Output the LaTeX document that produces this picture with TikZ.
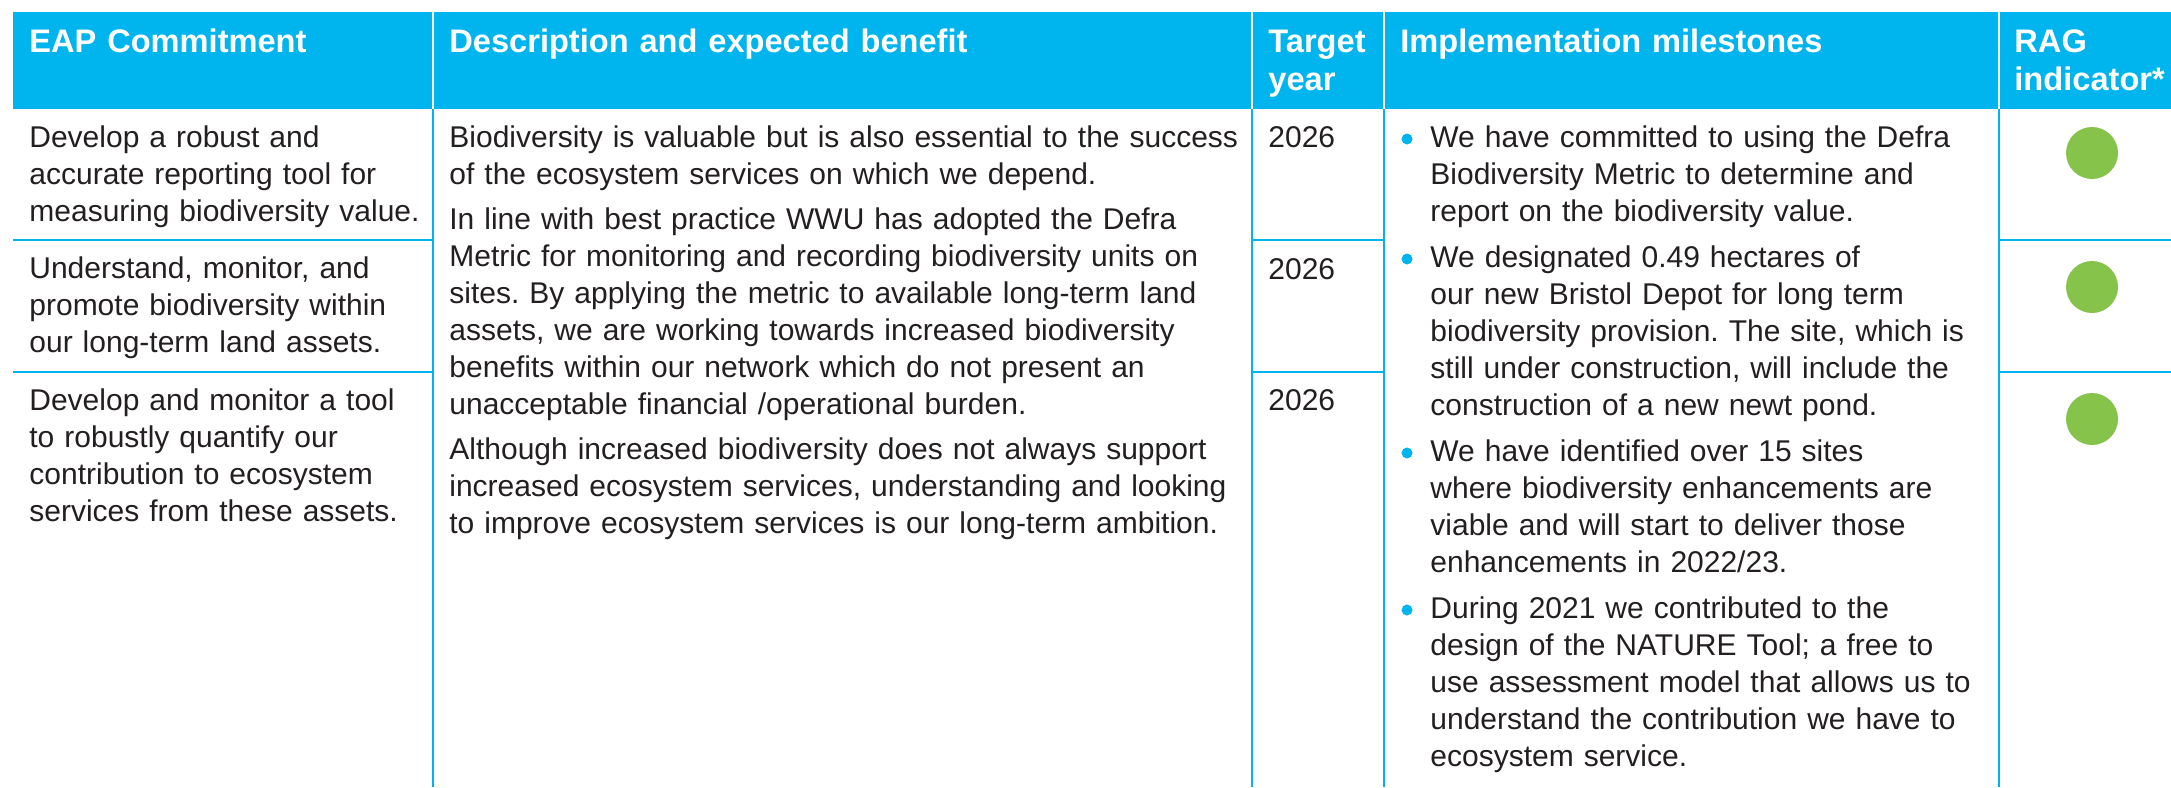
\documentclass[tikz,border=0pt]{standalone}
\usepackage{fontspec}
\setmainfont{Liberation Sans}
\usepackage{xcolor}

\definecolor{eapBlue}{HTML}{00B4EE}
\definecolor{eapGreen}{HTML}{86C34A}
\definecolor{eapText}{HTML}{231F20}

\begin{document}
\frenchspacing
\begin{tikzpicture}[x=0.5pt,y=-0.5pt,
  headtext/.style={anchor=base west,inner sep=0pt,text width=300pt,align=left,text=white,font=\fontsize{16.3}{19}\selectfont\bfseries},
  celltext/.style={anchor=base west,inner sep=0pt,text width=420pt,align=left,text=eapText,font=\fontsize{15}{18.5}\selectfont},
  gridline/.style={draw=eapBlue,line width=0.75pt},
  headrule/.style={draw=white,line width=0.75pt},
  bulletdot/.style={circle,fill=eapBlue,inner sep=0pt,minimum size=5.5pt},
  ragdot/.style={circle,fill=eapGreen,inner sep=0pt,minimum size=26pt}]

\useasboundingbox (0,0) rectangle (2171,787);

% header band
\fill[eapBlue] (13,12) rectangle (2171,109);
\draw[headrule] (433,12) -- (433,109);
\draw[headrule] (1252,12) -- (1252,109);
\draw[headrule] (1384,12) -- (1384,109);
\draw[headrule] (1999,12) -- (1999,109);

% grid
\draw[gridline] (433,109) -- (433,787);
\draw[gridline] (1252,109) -- (1252,787);
\draw[gridline] (1384,109) -- (1384,787);
\draw[gridline] (1999,109) -- (1999,787);
\draw[gridline] (13,240) -- (433,240);
\draw[gridline] (13,372) -- (433,372);
\draw[gridline] (1252,240) -- (1384,240);
\draw[gridline] (1252,372) -- (1384,372);
\draw[gridline] (1999,240) -- (2171,240);
\draw[gridline] (1999,372) -- (2171,372);

% header
\node[headtext] (HeadA) at (29,52) {EAP Commitment};
\node[headtext] (HeadB) at (449,52) {Description and expected benefit};
\node[headtext] (HeadC) at (1268,52) {Target\\year};
\node[headtext] (HeadD) at (1400,52) {Implementation milestones};
\node[headtext] (HeadE) at (2014,52) {RAG\\indicator*};

% commitments
\node[celltext] (CommitA) at (29,147) {Develop a robust and\\accurate reporting tool for\\measuring biodiversity value.};
\node[celltext] (CommitB) at (29,278) {Understand, monitor, and\\promote biodiversity within\\our long-term land assets.};
\node[celltext] (CommitC) at (29,410) {Develop and monitor a tool\\to robustly quantify our\\contribution to ecosystem\\services from these assets.};

% description
\node[celltext] (DescA) at (449,147) {Biodiversity is valuable but is also essential to the success\\of the ecosystem services on which we depend.};
\node[celltext] (DescB) at (449,229) {In line with best practice WWU has adopted the Defra\\Metric for monitoring and recording biodiversity units on\\sites. By applying the metric to available long-term land\\assets, we are working towards increased biodiversity\\benefits within our network which do not present an\\unacceptable financial /operational burden.};
\node[celltext] (DescC) at (449,459) {Although increased biodiversity does not always support\\increased ecosystem services, understanding and looking\\to improve ecosystem services is our long-term ambition.};

% target year
\node[celltext] (YearA) at (1268,147) {2026};
\node[celltext] (YearB) at (1268,279) {2026};
\node[celltext] (YearC) at (1268,410) {2026};

% milestones
\node[celltext] (MilestoneA) at (1430,147) {We have committed to using the Defra\\Biodiversity Metric to determine and\\report on the biodiversity value.};
\node[celltext] (MilestoneB) at (1430,267) {We designated 0.49 hectares of\\our new Bristol Depot for long term\\biodiversity provision. The site, which is\\still under construction, will include the\\construction of a new newt pond.};
\node[celltext] (MilestoneC) at (1430,461) {We have identified over 15 sites\\where biodiversity enhancements are\\viable and will start to deliver those\\enhancements in 2022/23.};
\node[celltext] (MilestoneD) at (1430,618) {During 2021 we contributed to the\\design of the NATURE Tool; a free to\\use assessment model that allows us to\\understand the contribution we have to\\ecosystem service.};

\node[bulletdot] (DotA) at ([xshift=-11.5pt,yshift=4pt]MilestoneA.base west) {};
\node[bulletdot] (DotB) at ([xshift=-11.5pt,yshift=4pt]MilestoneB.base west) {};
\node[bulletdot] (DotC) at ([xshift=-11.5pt,yshift=4pt]MilestoneC.base west) {};
\node[bulletdot] (DotD) at ([xshift=-11.5pt,yshift=4pt]MilestoneD.base west) {};

% RAG
\node[ragdot] (RagA) at (2092,153) {};
\node[ragdot] (RagB) at (2092,287) {};
\node[ragdot] (RagC) at (2092,419) {};

\end{tikzpicture}
\end{document}
